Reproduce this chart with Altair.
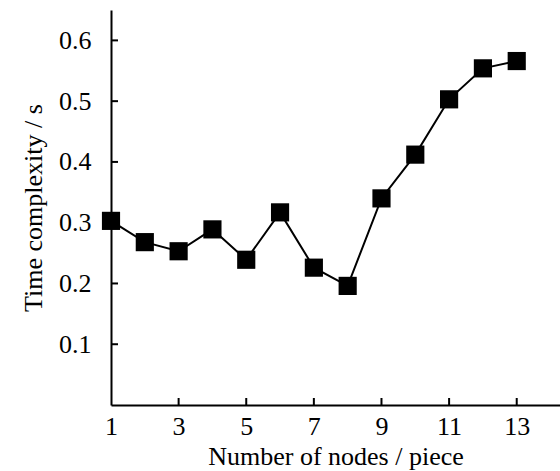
import altair as alt
import pandas as pd

nodes = [1, 2, 3, 4, 5, 6, 7, 8, 9, 10, 11, 12, 13]
times = [0.303, 0.268, 0.253, 0.289, 0.239, 0.317, 0.226, 0.196, 0.340, 0.412, 0.503, 0.554, 0.566]
x_ticks = [1, 3, 5, 7, 9, 11, 13]
y_ticks = [0.1, 0.2, 0.3, 0.4, 0.5, 0.6]

df = pd.DataFrame({"n": nodes, "t": times})
xt = pd.DataFrame({"v": x_ticks[1:]})
yt = pd.DataFrame({"v": y_ticks})

W, H = 449, 395
FONT = "Liberation Serif"

xscale = alt.Scale(domain=[1, 14.28], nice=False, zero=False)
yscale = alt.Scale(domain=[0, 0.65], nice=False)

xaxis = alt.Axis(values=x_ticks, ticks=False, grid=False, labelFont=FONT, labelFontSize=26,
                 labelColor="black", labelPadding=8, domainColor="black", domainWidth=2,
                 title="Number of nodes / piece", titleFont=FONT, titleFontSize=26,
                 titleFontWeight="normal", titleColor="#000000", titlePadding=4,
                 labelFlush=False, labelOverlap=False)
yaxis = alt.Axis(values=y_ticks, ticks=False, grid=False, format=".1f", labelFont=FONT,
                 labelFontSize=26, labelColor="black", labelPadding=20, domainColor="black",
                 domainWidth=2, title="Time complexity / s", titleFont=FONT, titleFontSize=26,
                 titleFontWeight="normal", titleColor="#000000", titlePadding=12)

line = alt.Chart(df).mark_line(color="black", strokeWidth=2).encode(
    x=alt.X("n:Q", scale=xscale, axis=xaxis),
    y=alt.Y("t:Q", scale=yscale, axis=yaxis),
)
pts = alt.Chart(df).mark_point(shape="square", filled=True, color="black", size=330, opacity=1).encode(
    x=alt.X("n:Q", scale=xscale),
    y=alt.Y("t:Q", scale=yscale),
)
xtick = alt.Chart(xt).mark_rule(color="black", strokeWidth=2).encode(
    x=alt.X("v:Q", scale=xscale),
    y=alt.value(H),
    y2=alt.value(H - 7),
)
ytick = alt.Chart(yt).mark_rule(color="black", strokeWidth=2).encode(
    y=alt.Y("v:Q", scale=yscale),
    x=alt.value(0),
    x2=alt.value(7),
)

chart = alt.layer(line, xtick, ytick, pts).properties(
    width=W, height=H,
    autosize=alt.AutoSizeParams(type="none"),
    padding={"left": 111, "top": 10, "right": 0, "bottom": 66},
    background="white",
).configure_view(stroke=None)

chart.save("out.html", embed_options={"renderer": "svg", "actions": False})
